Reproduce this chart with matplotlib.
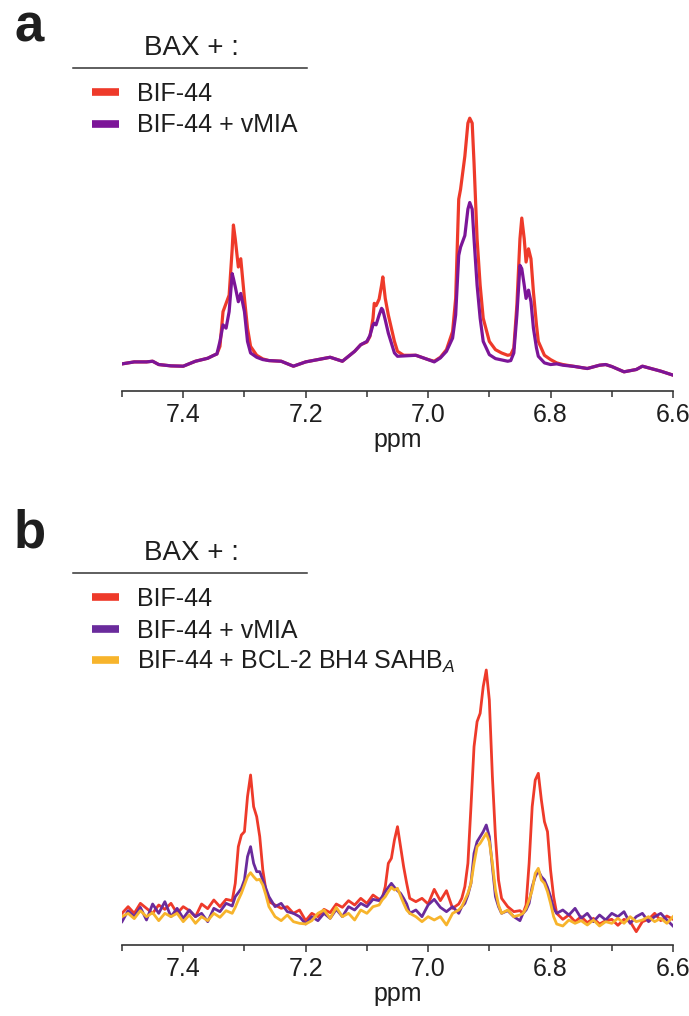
import matplotlib
matplotlib.use('Agg')
import matplotlib.pyplot as plt
from matplotlib.ticker import MultipleLocator
from matplotlib.lines import Line2D

plt.rcParams['font.family'] = ['Liberation Sans', 'DejaVu Sans']
plt.rcParams['mathtext.fontset'] = 'custom'
plt.rcParams['mathtext.rm'] = 'Liberation Sans'
plt.rcParams['mathtext.it'] = 'Liberation Sans:italic'

# ---------------- data (chemical shift, ppm / intensity, a.u.) ----------------

shift_a = [7.50, 7.48, 7.46, 7.45, 7.44, 7.42, 7.40, 7.38, 7.36, 7.35,
           7.345, 7.34, 7.335, 7.33, 7.325, 7.32, 7.318, 7.315, 7.31, 7.306,
           7.30, 7.295, 7.29, 7.28, 7.27, 7.26, 7.24, 7.22, 7.20, 7.18,
           7.16, 7.14, 7.12, 7.11, 7.10, 7.095, 7.09, 7.088, 7.085, 7.08,
           7.076, 7.074, 7.07, 7.065, 7.06, 7.055, 7.05, 7.04, 7.02, 7.00,
           6.99, 6.98, 6.97, 6.96, 6.955, 6.95, 6.947, 6.94, 6.935, 6.932,
           6.928, 6.925, 6.92, 6.915, 6.91, 6.90, 6.89, 6.88, 6.87, 6.865,
           6.86, 6.855, 6.85, 6.847, 6.843, 6.84, 6.836, 6.832, 6.828, 6.823,
           6.82, 6.81, 6.80, 6.79, 6.78, 6.76, 6.74, 6.72, 6.71, 6.70,
           6.68, 6.66, 6.65, 6.64, 6.62, 6.60]

a_bif44 = [0.02, 0.08, 0.08, 0.10, 0.00, -0.04, -0.05, 0.10, 0.19, 0.28,
           0.32, 0.55, 1.60, 1.85, 2.10, 3.50, 4.22, 3.80, 2.95, 3.20,
           2.00, 1.10, 0.55, 0.28, 0.17, 0.12, 0.10, -0.05, 0.08, 0.15,
           0.22, 0.10, 0.40, 0.60, 0.68, 0.85, 1.40, 1.85, 1.78, 1.98,
           2.40, 2.65, 2.00, 1.50, 1.10, 0.70, 0.40, 0.28, 0.28, 0.15,
           0.10, 0.22, 0.45, 1.00, 2.00, 5.00, 5.30, 6.30, 7.30, 7.45,
           7.30, 6.10, 3.80, 2.40, 1.40, 0.70, 0.45, 0.35, 0.28, 0.30,
           0.50, 1.80, 3.80, 4.43, 3.80, 3.10, 3.50, 3.20, 2.20, 1.20,
           0.70, 0.28, 0.15, 0.05, 0.00, -0.06, -0.12, -0.02, 0.00, -0.06,
           -0.22, -0.15, -0.05, -0.10, -0.20, -0.32]

a_vmia = [0.02, 0.08, 0.08, 0.10, 0.00, -0.04, -0.05, 0.10, 0.19, 0.28,
          0.32, 0.70, 1.20, 1.10, 1.60, 2.75, 2.60, 2.35, 1.90, 2.15,
          1.60, 0.70, 0.35, 0.22, 0.15, 0.12, 0.10, -0.05, 0.08, 0.15,
          0.22, 0.10, 0.40, 0.60, 0.70, 0.88, 1.20, 1.25, 1.20, 1.50,
          1.70, 1.65, 1.35, 0.95, 0.65, 0.35, 0.25, 0.26, 0.28, 0.15,
          0.08, 0.20, 0.40, 0.80, 1.50, 3.30, 3.55, 3.90, 4.70, 4.90,
          4.70, 3.80, 2.40, 1.40, 0.70, 0.30, 0.18, 0.14, 0.10, 0.12,
          0.35, 1.50, 3.00, 2.90, 2.40, 2.00, 2.25, 1.90, 1.10, 0.50,
          0.25, 0.05, 0.00, 0.02, -0.02, -0.06, -0.12, -0.02, 0.00, -0.06,
          -0.22, -0.15, -0.05, -0.10, -0.20, -0.32]

shift_b = [7.50, 7.49, 7.48, 7.47, 7.46, 7.45, 7.44, 7.43, 7.42, 7.41,
           7.40, 7.39, 7.38, 7.37, 7.36, 7.35, 7.34, 7.33, 7.32,
           7.315, 7.31, 7.305, 7.30, 7.295, 7.29, 7.285, 7.28, 7.275, 7.27,
           7.265, 7.26,
           7.25, 7.24, 7.23, 7.22, 7.21, 7.20, 7.19, 7.18, 7.17, 7.16,
           7.15, 7.14, 7.13, 7.12, 7.11, 7.10, 7.09, 7.08,
           7.075, 7.07, 7.065, 7.06, 7.055, 7.05, 7.045, 7.04, 7.035,
           7.03, 7.02, 7.01, 7.00, 6.99, 6.98, 6.97, 6.96, 6.95,
           6.945, 6.94, 6.935, 6.93, 6.925, 6.92, 6.915, 6.91, 6.905, 6.90,
           6.895, 6.89, 6.885,
           6.88, 6.87, 6.86, 6.85,
           6.845, 6.84, 6.835, 6.83, 6.825, 6.82, 6.815, 6.81, 6.805, 6.80,
           6.795,
           6.79, 6.78, 6.77, 6.76, 6.75, 6.74, 6.73, 6.72, 6.71, 6.70,
           6.69, 6.68, 6.67, 6.66, 6.65, 6.64, 6.63, 6.62, 6.61, 6.60]

b_bif44 = [0.10, 0.30, 0.10, 0.40, 0.25, 0.10, 0.35, 0.22, 0.40, 0.10,
           0.30, 0.18, 0.00, 0.38, 0.24, 0.50, 0.30, 0.52, 0.48,
           1.00, 2.10, 2.45, 2.55, 3.60, 4.25, 3.30, 3.00, 2.40, 1.40,
           0.80, 0.45,
           0.35, 0.25, 0.30, 0.10, 0.20, -0.12, 0.10, 0.00, 0.22, 0.12,
           0.38, 0.28, 0.48, 0.35, 0.55, 0.40, 0.65, 0.52,
           0.55, 0.90, 1.60, 1.75, 2.30, 2.70, 2.10, 1.50, 1.00,
           0.55, 0.45, 0.55, 0.38, 0.82, 0.48, 0.78, 0.25, 0.38,
           0.55, 0.90, 1.60, 3.30, 5.10, 5.85, 6.10, 6.90, 7.40, 6.50,
           4.20, 2.40, 1.10,
           0.55, 0.30, 0.15, 0.18,
           0.10, 0.35, 1.60, 3.30, 4.10, 4.30, 3.50, 2.85, 2.55, 1.40,
           0.60,
           0.10, -0.08, 0.05, -0.15, 0.00, -0.18, -0.05, -0.22, -0.12, -0.08,
           -0.26, -0.08, -0.15, -0.45, -0.15, -0.08, 0.10, -0.12, 0.02, -0.08]

b_vmia = [-0.15, 0.18, 0.00, 0.28, -0.10, 0.38, 0.10, 0.45, 0.00, 0.25,
          -0.05, 0.20, 0.00, 0.10, -0.15, 0.25, 0.15, 0.40, 0.32,
          0.60, 0.72, 0.85, 1.10, 1.80, 2.10, 1.60, 1.35, 1.35, 1.10,
          0.85, 0.60,
          0.30, 0.40, 0.15, 0.10, 0.00, -0.22, 0.00, -0.12, 0.10, -0.05,
          0.22, 0.00, 0.30, 0.20, 0.40, 0.30, 0.52, 0.48,
          0.60, 0.75, 0.88, 1.00, 0.88, 0.78, 0.70, 0.55, 0.38,
          0.10, 0.20, 0.00, 0.35, 0.52, 0.28, 0.15, 0.30, 0.10,
          0.30, 0.40, 0.65, 1.00, 1.90, 2.25, 2.40, 2.55, 2.75, 2.40,
          1.50, 0.60, 0.30,
          0.10, 0.18, 0.00, -0.12,
          0.10, 0.20, 0.40, 0.90, 1.20, 1.38, 1.20, 1.10, 0.88, 0.60,
          0.25,
          0.10, 0.20, 0.05, 0.25, -0.05, 0.10, -0.15, 0.05, -0.10, 0.10,
          0.00, 0.15, -0.20, 0.00, 0.10, -0.15, 0.00, 0.10, -0.10, -0.28]

b_bh4 = [0.00, 0.10, -0.06, 0.18, 0.00, 0.12, -0.12, 0.10, 0.00, 0.10,
         -0.15, 0.05, -0.20, 0.00, -0.12, 0.10, -0.02, 0.18, 0.10,
         0.28, 0.50, 0.70, 0.95, 1.20, 1.32, 1.20, 1.10, 1.12, 0.95,
         0.65, 0.30,
         0.00, -0.12, 0.05, -0.15, -0.20, -0.22, -0.12, 0.10, 0.20, -0.05,
         0.28, 0.00, 0.10, -0.10, 0.20, 0.10, 0.30, 0.35,
         0.50, 0.60, 0.75, 0.88, 0.80, 0.85, 0.62, 0.40, 0.20,
         0.10, 0.00, -0.15, 0.00, -0.10, 0.00, -0.25, 0.10, 0.20,
         0.30, 0.50, 0.70, 1.00, 1.60, 2.10, 2.20, 2.35, 2.50, 2.25,
         1.60, 0.80, 0.35,
         0.10, 0.20, 0.00, 0.05,
         0.10, 0.25, 0.50, 0.80, 1.30, 1.45, 1.10, 1.00, 0.75, 0.40,
         0.00,
         -0.22, -0.28, -0.10, -0.20, -0.12, -0.25, -0.10, -0.28, -0.15, -0.20,
         -0.05, -0.20, 0.00, -0.15, -0.10, 0.00, -0.15, -0.05, -0.20, 0.00]

labels_a = ['BIF-44', 'BIF-44 + vMIA']
labels_b = ['BIF-44', 'BIF-44 + vMIA', r'BIF-44 + BCL-2 BH4 SAHB$_{\mathit{A}}$']

RED = '#ee3a2a'
PURPLE_A = '#7c1598'
PURPLE_B = '#6a2b9c'
YELLOW = '#f7b42c'
TXT = '#1e1e1e'

# ---------------------------- figure ----------------------------------

W, H = 689, 1016
fig = plt.figure(figsize=(W / 100, H / 100), dpi=100)

def fx(px):
    return px / W

def fy(py):
    return 1 - py / H

def style_axes(ax, ylim):
    ax.set_xlim(7.5, 6.6)
    ax.set_ylim(*ylim)
    for s in ('top', 'left', 'right'):
        ax.spines[s].set_visible(False)
    ax.spines['bottom'].set_color('#333333')
    ax.spines['bottom'].set_linewidth(1.2)
    ax.set_yticks([])
    ax.xaxis.set_major_locator(MultipleLocator(0.2))
    ax.xaxis.set_minor_locator(MultipleLocator(0.1))
    ax.tick_params(axis='x', which='major', direction='out', length=5, width=1.1,
                   color='#333333', labelsize=18, labelcolor=TXT, pad=4)
    ax.tick_params(axis='x', which='minor', direction='out', length=4.5, width=1.1,
                   color='#333333')
    ax.xaxis.set_major_formatter(plt.FuncFormatter(lambda v, p: f'{v:.1f}'))
    ax.set_xlabel('ppm', fontsize=18, color=TXT, labelpad=0)
    ax.patch.set_alpha(0)

def legend_block(letter, base_y, labels, colors):
    # panel letter, "BAX + :" header with rule, and swatch rows
    fig.text(fx(14), fy(base_y + 42), letter, fontsize=38, fontweight='bold',
             color=TXT, va='baseline', ha='left')
    fig.text(fx(191), fy(base_y + 55), 'BAX + :', fontsize=20, color=TXT,
             va='baseline', ha='center')
    fig.add_artist(Line2D([fx(73), fx(307)], [fy(base_y + 67.5)] * 2,
                          color='#333333', lw=1.1))
    for i, (lab, col) in enumerate(zip(labels, colors)):
        ry = base_y + 92 + i * 31.5
        fig.add_artist(Line2D([fx(92), fx(119)], [fy(ry)] * 2, color=col,
                              lw=5.5, solid_capstyle='butt'))
        fig.text(fx(137), fy(ry + 9), lab, fontsize=18, color=TXT,
                 va='baseline', ha='left')

# panel a
ax_a = fig.add_axes([fx(122), fy(391), fx(673) - fx(122), (391 - 100) / H])
ax_a.plot(shift_a, a_bif44, color=RED, lw=2.3, solid_joinstyle='round')
ax_a.plot(shift_a, a_vmia, color=PURPLE_A, lw=2.3, solid_joinstyle='round')
style_axes(ax_a, (-0.8, 8.0))
legend_block('a', 0, labels_a, [RED, PURPLE_A])

# panel b
ax_b = fig.add_axes([fx(122), fy(945), fx(673) - fx(122), (945 - 650) / H])
ax_b.plot(shift_b, b_bif44, color=RED, lw=2.0, solid_joinstyle='round')
ax_b.plot(shift_b, b_vmia, color=PURPLE_B, lw=2.0, solid_joinstyle='round')
ax_b.plot(shift_b, b_bh4, color=YELLOW, lw=2.0, solid_joinstyle='round')
style_axes(ax_b, (-0.85, 8.0))
legend_block('b', 505, labels_b, [RED, PURPLE_B, YELLOW])

fig.savefig('out.png', dpi=100)
